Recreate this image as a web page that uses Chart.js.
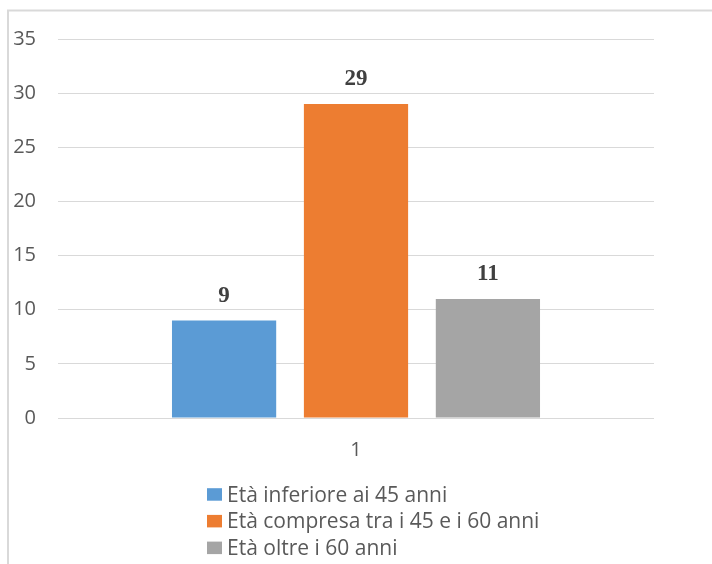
<!DOCTYPE html>
<html>
<head>
<meta charset="utf-8">
<script src="https://cdn.jsdelivr.net/npm/chart.js@4.4.1/dist/chart.umd.min.js"></script>
<style>
  html, body { margin: 0; padding: 0; background: #ffffff; }
  #wrap { position: relative; width: 712px; height: 564px; }
</style>
</head>
<body>
<div id="wrap"><canvas id="c" width="712" height="564"></canvas></div>
<script>
// Data
const categories = ['1'];
const seriesNames = [
  'Età inferiore ai 45 anni',
  'Età compresa tra i 45 e i 60 anni',
  'Età oltre i 60 anni'
];
const under45 = [9];
const between45and60 = [29];
const over60 = [11];
const yTicks = [0, 5, 10, 15, 20, 25, 30, 35];

// Styles
const seriesColors = ['#5b9bd5', '#ed7d31', '#a5a5a5'];
const textColor = '#595959';
const gridColor = '#d9d9d9';
const sansFont = "'Open Sans', 'DejaVu Sans', sans-serif";

// Thin frame around the chart (left and top edges)
const framePlugin = {
  id: 'frame',
  beforeDraw(chart) {
    const ctx = chart.ctx;
    ctx.save();
    ctx.strokeStyle = gridColor;
    ctx.lineWidth = 2;
    ctx.beginPath();
    ctx.moveTo(8, chart.height);
    ctx.lineTo(8, 10.5);
    ctx.lineTo(chart.width, 10.5);
    ctx.stroke();
    ctx.restore();
  }
};

// Bold value above each bar
const valueLabelPlugin = {
  id: 'valueLabels',
  afterDatasetsDraw(chart) {
    const ctx = chart.ctx;
    ctx.save();
    ctx.font = "bold 23px 'Liberation Serif', 'Times New Roman', serif";
    ctx.fillStyle = '#404040';
    ctx.textAlign = 'center';
    ctx.textBaseline = 'alphabetic';
    chart.data.datasets.forEach((ds, i) => {
      const meta = chart.getDatasetMeta(i);
      meta.data.forEach((bar, j) => {
        ctx.fillText(String(ds.data[j]), bar.x, bar.y - 18.5);
      });
    });
    ctx.restore();
  }
};

// Legend stacked vertically under the axis
const stackedLegendPlugin = {
  id: 'stackedLegend',
  afterDraw(chart) {
    const ctx = chart.ctx;
    const items = Chart.defaults.plugins.legend.labels.generateLabels(chart);
    const boxX = 207, textX = 227, firstBaseline = 501.7, rowStep = 26.7;
    ctx.save();
    ctx.font = '21px ' + sansFont;
    ctx.textAlign = 'left';
    ctx.textBaseline = 'alphabetic';
    items.forEach((item, i) => {
      const base = firstBaseline + i * rowStep;
      ctx.fillStyle = item.fillStyle;
      ctx.fillRect(boxX, base - 13.5, 15, 12.5);
      ctx.fillStyle = textColor;
      ctx.fillText(item.text, textX, base);
    });
    ctx.restore();
  }
};

const seriesValues = [under45, between45and60, over60];

new Chart(document.getElementById('c'), {
  type: 'bar',
  data: {
    labels: categories,
    datasets: seriesNames.map((name, i) => ({
      label: name,
      data: seriesValues[i],
      backgroundColor: seriesColors[i],
      borderWidth: 0,
      categoryPercentage: 0.664,
      barPercentage: 0.79
    }))
  },
  options: {
    responsive: false,
    animation: false,
    devicePixelRatio: 1,
    layout: { padding: { left: 8, right: 58, top: 39, bottom: 96 } },
    plugins: {
      legend: { display: false },
      tooltip: { enabled: false }
    },
    scales: {
      x: {
        grid: { display: false },
        border: { display: false },
        ticks: { color: textColor, font: { family: sansFont, size: 20 }, padding: 12 },
        afterFit(scale) { scale.height = 50; }
      },
      y: {
        min: yTicks[0],
        max: yTicks[yTicks.length - 1],
        afterBuildTicks(scale) { scale.ticks = yTicks.map(v => ({ value: v })); },
        grid: { color: gridColor, lineWidth: 1, drawTicks: false },
        border: { display: false },
        ticks: { color: textColor, font: { family: sansFont, size: 20 }, padding: 22 },
        afterFit(scale) { scale.width = 50; }
      }
    }
  },
  plugins: [framePlugin, valueLabelPlugin, stackedLegendPlugin]
});
</script>
</body>
</html>
